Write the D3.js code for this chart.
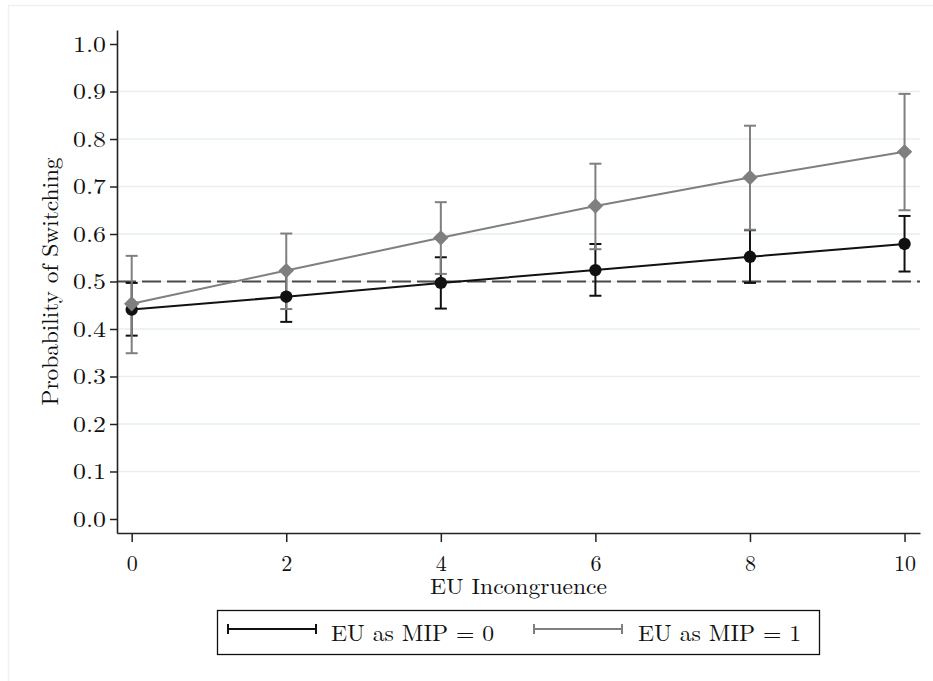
<!DOCTYPE html>
<html>
<head>
<meta charset="utf-8">
<script src="https://cdn.jsdelivr.net/npm/d3@7"></script>
<style>
  body { margin: 0; background: #fff; }
</style>
</head>
<body>
<script>
var width = 933,
    height = 681,
    fontFamily = "'Latin Modern Roman', 'CMU Serif', 'Liberation Serif', serif";

// data
var incongruence = [0, 2, 4, 6, 8, 10];
var mip0Mean = [0.441, 0.468, 0.497, 0.524, 0.552, 0.579];
var mip0Lo   = [0.386, 0.415, 0.443, 0.470, 0.497, 0.521];
var mip0Hi   = [0.497, 0.522, 0.551, 0.579, 0.608, 0.638];
var mip1Mean = [0.453, 0.523, 0.592, 0.659, 0.719, 0.773];
var mip1Lo   = [0.349, 0.442, 0.516, 0.568, 0.609, 0.650];
var mip1Hi   = [0.554, 0.601, 0.667, 0.748, 0.828, 0.895];
var xTicks = [0, 2, 4, 6, 8, 10];
var yTicks = [0, 0.1, 0.2, 0.3, 0.4, 0.5, 0.6, 0.7, 0.8, 0.9, 1.0];
var gridValues = [0.1, 0.2, 0.3, 0.4, 0.5, 0.6, 0.7, 0.8, 0.9];
var refValue = 0.5;
var seriesNames = ["EU as MIP = 0", "EU as MIP = 1"];
var seriesColors = ["#111111", "#7f7f7f"];

var series = [
    { name: seriesNames[0], color: seriesColors[0], mean: mip0Mean, lo: mip0Lo, hi: mip0Hi, shape: "circle" },
    { name: seriesNames[1], color: seriesColors[1], mean: mip1Mean, lo: mip1Lo, hi: mip1Hi, shape: "diamond" }
];

//Scales
var x = d3.scaleLinear().domain([-0.19, 10.2]).range([117, 920]);
var y = d3.scaleLinear().domain([-0.0295, 1.0295]).range([533, 30]);

var svg = d3.select("body").append("svg")
    .attr("width", width)
    .attr("height", height);

//Faint outer frame
svg.append("rect")
    .attr("x", 8.5).attr("y", 5.5)
    .attr("width", 1000).attr("height", 1000)
    .attr("fill", "none")
    .attr("stroke", "#eef1f3")
    .attr("stroke-width", 1.5);

//Gridlines
svg.selectAll("line.grid")
    .data(gridValues)
    .enter().append("line")
    .attr("class", "grid")
    .attr("x1", x.range()[0]).attr("x2", x.range()[1])
    .attr("y1", function (d) { return y(d); })
    .attr("y2", function (d) { return y(d); })
    .attr("stroke", "#e6eff2")
    .attr("stroke-width", 1.5);

//Reference line at 0.5
svg.append("line")
    .attr("x1", x.range()[0]).attr("x2", x.range()[1])
    .attr("y1", y(refValue)).attr("y2", y(refValue))
    .attr("stroke", "#4a4a4a")
    .attr("stroke-width", 2)
    .attr("stroke-dasharray", "19,6");

//Axes
var xAxis = svg.append("g")
    .attr("transform", "translate(0," + y.range()[0] + ")")
    .call(d3.axisBottom(x).tickValues(xTicks).tickFormat(d3.format("d")).tickSizeInner(9).tickSizeOuter(0).tickPadding(13));

var yAxis = svg.append("g")
    .attr("transform", "translate(" + x.range()[0] + ",0)")
    .call(d3.axisLeft(y).tickValues(yTicks).tickFormat(d3.format(".1f")).tickSizeInner(7).tickSizeOuter(0).tickPadding(4));

[xAxis, yAxis].forEach(function (g) {
    g.attr("font-family", null).attr("font-size", null);
    g.select(".domain").attr("stroke", "#222").attr("stroke-width", 1.6);
    g.selectAll(".tick line").attr("stroke", "#222").attr("stroke-width", 1.5);
    g.selectAll(".tick text")
        .attr("fill", "#111")
        .style("font-family", fontFamily)
        .style("font-size", "22px");
});
yAxis.selectAll(".tick text")
    .attr("dy", "0.34em")
    .attr("textLength", 33)
    .attr("lengthAdjust", "spacingAndGlyphs");

//Axis titles
svg.append("text")
    .attr("x", (x.range()[0] + x.range()[1]) / 2)
    .attr("y", 594)
    .attr("text-anchor", "middle")
    .attr("textLength", 177)
    .attr("lengthAdjust", "spacingAndGlyphs")
    .style("font-family", fontFamily)
    .style("font-size", "22px")
    .attr("fill", "#111")
    .text("EU Incongruence");

svg.append("text")
    .attr("transform", "translate(58," + ((y.range()[0] + y.range()[1]) / 2) + ") rotate(-90)")
    .attr("text-anchor", "middle")
    .attr("textLength", 248)
    .attr("lengthAdjust", "spacingAndGlyphs")
    .style("font-family", fontFamily)
    .style("font-size", "22.5px")
    .attr("fill", "#111")
    .text("Probability of Switching");

//Confidence intervals (caps)
var capHalf = 6;
series.forEach(function (s) {
    var g = svg.append("g");
    g.selectAll("line.ci")
        .data(incongruence)
        .enter().append("line")
        .attr("x1", function (d) { return x(d); })
        .attr("x2", function (d) { return x(d); })
        .attr("y1", function (d, i) { return y(s.lo[i]); })
        .attr("y2", function (d, i) { return y(s.hi[i]); })
        .attr("stroke", s.color).attr("stroke-width", 2);
    ["lo", "hi"].forEach(function (k) {
        g.selectAll("line.cap-" + k)
            .data(incongruence)
            .enter().append("line")
            .attr("x1", function (d) { return x(d) - capHalf; })
            .attr("x2", function (d) { return x(d) + capHalf; })
            .attr("y1", function (d, i) { return y(s[k][i]); })
            .attr("y2", function (d, i) { return y(s[k][i]); })
            .attr("stroke", s.color).attr("stroke-width", 2);
    });
});

//Lines and markers
var line = d3.line()
    .x(function (d) { return x(d[0]); })
    .y(function (d) { return y(d[1]); });

series.forEach(function (s) {
    var pts = incongruence.map(function (d, i) { return [d, s.mean[i]]; });
    svg.append("path")
        .datum(pts)
        .attr("d", line)
        .attr("fill", "none")
        .attr("stroke", s.color)
        .attr("stroke-width", 2);

    var sym = s.shape === "circle"
        ? d3.symbol().type(d3.symbolCircle).size(120)
        : d3.symbol().type(d3.symbolDiamond2).size(150);
    svg.selectAll("path.m-" + s.shape)
        .data(pts)
        .enter().append("path")
        .attr("class", "m-" + s.shape)
        .attr("transform", function (d) { return "translate(" + x(d[0]) + "," + y(d[1]) + ")"; })
        .attr("d", sym)
        .attr("fill", s.color);
});

//Legend
var legend = svg.append("g");
legend.append("rect")
    .attr("x", 217.5).attr("y", 610.5)
    .attr("width", 602).attr("height", 44)
    .attr("fill", "#fff")
    .attr("stroke", "#111")
    .attr("stroke-width", 1.3);

var legendKeyX = [228, 534];
var legendTextX = [331, 638];
series.forEach(function (s, i) {
    var ly = 629;
    legend.append("line")
        .attr("x1", legendKeyX[i]).attr("x2", legendKeyX[i] + 88)
        .attr("y1", ly).attr("y2", ly)
        .attr("stroke", s.color).attr("stroke-width", 2);
    [0, 88].forEach(function (dx) {
        legend.append("line")
            .attr("x1", legendKeyX[i] + dx).attr("x2", legendKeyX[i] + dx)
            .attr("y1", ly - 5).attr("y2", ly + 5)
            .attr("stroke", s.color).attr("stroke-width", 2);
    });
    legend.append("text")
        .attr("x", legendTextX[i])
        .attr("y", 641)
        .attr("textLength", 163)
        .attr("lengthAdjust", "spacingAndGlyphs")
        .style("font-family", fontFamily)
        .style("font-size", "22.5px")
        .attr("fill", "#111")
        .text(s.name);
});
</script>
</body>
</html>
